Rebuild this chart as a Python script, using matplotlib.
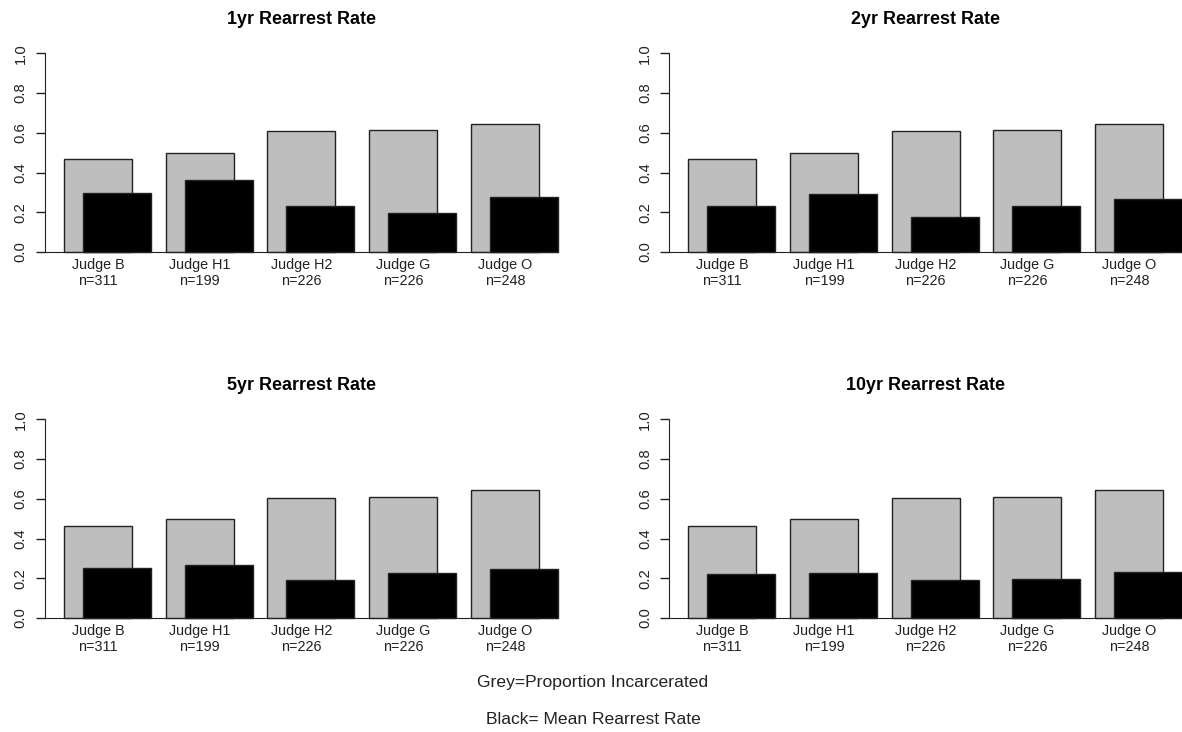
import numpy as np
import matplotlib.pyplot as plt

plt.rcParams['font.family'] = ['Liberation Sans', 'DejaVu Sans']

# Judges and case counts
judges = ["Judge B", "Judge H1", "Judge H2", "Judge G", "Judge O"]
n_cases = [311, 199, 226, 226, 248]

# Proportion incarcerated (grey bars)
grey_1yr = [0.470, 0.498, 0.607, 0.612, 0.646]
grey_2yr = [0.470, 0.498, 0.607, 0.612, 0.646]
grey_5yr = [0.463, 0.500, 0.606, 0.611, 0.646]
grey_10yr = [0.463, 0.500, 0.606, 0.611, 0.646]

# Mean rearrest rate (black bars)
black_1yr = [0.297, 0.361, 0.230, 0.195, 0.275]
black_2yr = [0.230, 0.294, 0.178, 0.230, 0.265]
black_5yr = [0.253, 0.265, 0.190, 0.225, 0.247]
black_10yr = [0.220, 0.225, 0.190, 0.195, 0.230]

titles = ["1yr Rearrest Rate", "2yr Rearrest Rate", "5yr Rearrest Rate", "10yr Rearrest Rate"]
greys = [grey_1yr, grey_2yr, grey_5yr, grey_10yr]
blacks = [black_1yr, black_2yr, black_5yr, black_10yr]

labels = [f"{j}\nn={n}" for j, n in zip(judges, n_cases)]

fig = plt.figure(figsize=(11.82, 7.32), dpi=100)

W, H = 1182.0, 732.0
panel_w = 512.7 / W
panel_h = 198.7 / H
lefts = [45 / W, 669.3 / W]
bottoms = [(H - 252) / H, (H - 618) / H]

# bar layout like R barplot(space=0.5): grey at 0.5 + 1.5i, black shifted right
grey_left = 0.5 + 1.5 * np.arange(len(judges))
black_left = grey_left + 0.28
centers = grey_left + 0.5

for k in range(4):
    ax = fig.add_axes([lefts[k % 2], bottoms[k // 2], panel_w, panel_h])
    ax.bar(grey_left, greys[k], width=1.0, align="edge", color="#bebebe",
           edgecolor="#222222", linewidth=1.0, clip_on=False)
    ax.bar(black_left, blacks[k], width=1.0, align="edge", color="black",
           edgecolor="#222222", linewidth=1.0, clip_on=False)
    ax.set_xlim(0.22, 7.78)
    ax.set_ylim(0, 1)

    for s in ["top", "right"]:
        ax.spines[s].set_visible(False)
    ax.spines["left"].set_bounds(0, 1)
    ax.spines["left"].set_color("#222222")
    ax.spines["bottom"].set_color("#222222")

    ax.set_yticks([0, 0.2, 0.4, 0.6, 0.8, 1.0])
    ax.set_yticklabels(["0.0", "0.2", "0.4", "0.6", "0.8", "1.0"])
    ax.tick_params(axis="y", length=6.5, width=1.0, pad=6, labelsize=10.6,
                   color="#222222", labelcolor="#222222")
    for t in ax.get_yticklabels():
        t.set_rotation(90)
        t.set_va("center")

    ax.set_xticks(centers)
    ax.set_xticklabels(labels, fontsize=10.4, color="#222222")
    ax.tick_params(axis="x", length=0, pad=4.5)

    ax.set_title(titles[k], fontsize=12.9, fontweight="bold", pad=21)

fig.text(593 / W, 1 - 683 / H, "Grey=Proportion Incarcerated", ha="center",
         va="center", fontsize=12.6, color="#222222")
fig.text(593 / W, 1 - 720 / H, "Black= Mean Rearrest Rate", ha="center",
         va="center", fontsize=12.6, color="#222222")

fig.savefig("out.png", dpi=100)
